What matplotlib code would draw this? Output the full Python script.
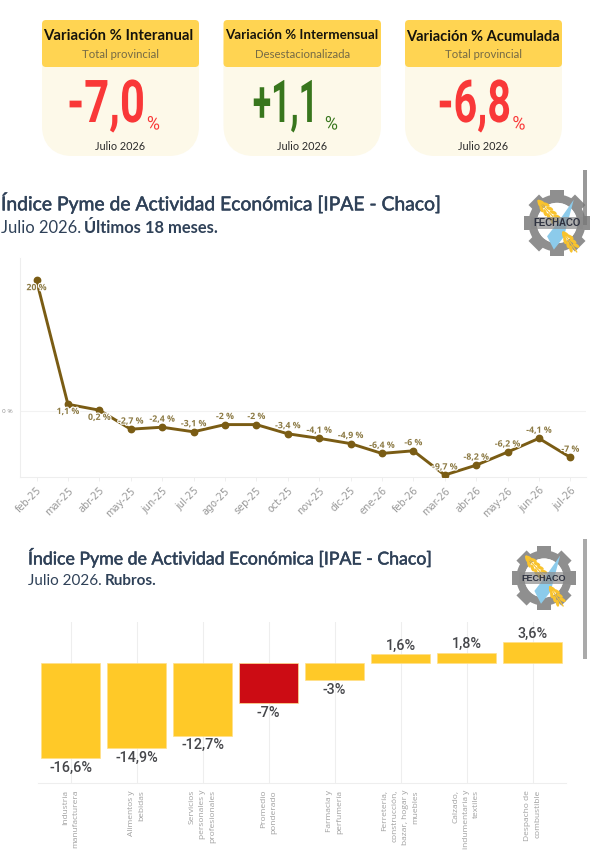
import numpy as np
import matplotlib
matplotlib.use("Agg")
import matplotlib.pyplot as plt
from matplotlib.patches import FancyBboxPatch, Rectangle, Wedge, Polygon, Ellipse, Circle
from matplotlib.transforms import Affine2D
import matplotlib.patheffects as pe

months = ["feb-25","mar-25","abr-25","may-25","jun-25","jul-25","ago-25","sep-25","oct-25",
          "nov-25","dic-25","ene-26","feb-26","mar-26","abr-26","may-26","jun-26","jul-26"]
ipae = [20, 1.1, 0.2, -2.7, -2.4, -3.1, -2, -2, -3.4, -4.1, -4.9, -6.4, -6, -9.7, -8.2, -6.2, -4.1, -7]
ipae_labels = ["20 %","1,1 %","0,2 %","-2,7 %","-2,4 %","-3,1 %","-2 %","-2 %","-3,4 %","-4,1 %",
               "-4,9 %","-6,4 %","-6 %","-9,7 %","-8,2 %","-6,2 %","-4,1 %","-7 %"]
rubros = ["Industria\nmanufacturera","Alimentos y\nbebidas","Servicios\npersonales y\nprofesionales",
          "Promedio\nponderado","Farmacia y\nperfumería","Ferretería,\nconstrucción,\nbazar, hogar y\nmuebles",
          "Calzado,\nindumentaria y\ntextiles","Despacho de\ncombustible"]
rubros_val = [-16.6, -14.9, -12.7, -7, -3, 1.6, 1.8, 3.6]
rubros_labels = ["-16,6%","-14,9%","-12,7%","-7%","-3%","1,6%","1,8%","3,6%"]
kpi_titles = ["Variación % Interanual","Variación % Intermensual","Variación % Acumulada"]
kpi_subs = ["Total provincial","Desestacionalizada","Total provincial"]
kpi_vals = ["-7,0","+1,1","-6,8"]
kpi_date = "Julio 2026"

W, H = 590, 859
fig = plt.figure(figsize=(W/100, H/100), dpi=100, facecolor="white")

def px_axes(l, t, r, b):
    return fig.add_axes([l/W, 1-b/H, (r-l)/W, (b-t)/H])

bg = fig.add_axes([0, 0, 1, 1], zorder=5)
bg.set_xlim(0, W); bg.set_ylim(H, 0); bg.axis("off"); bg.patch.set_alpha(0)

class Condense(pe.AbstractPathEffect):
    """Squeezes a text horizontally about a fixed pixel column."""
    def __init__(self, sx, x0):
        super().__init__()
        self.sx, self.x0 = sx, x0
    def draw_path(self, renderer, gc, tpath, affine, rgbFace=None):
        a = affine + Affine2D().translate(-self.x0, 0).scale(self.sx, 1).translate(self.x0, 0)
        renderer.draw_path(gc, tpath, a, rgbFace)

# KPI cards
card_x = [(42, 199), (223.5, 381), (405, 562)]
kpi_colors = ["#F93838", "#38761D", "#F93838"]
big_right = [145, 318, 511]
big_sx = [0.74, 0.57, 0.70]
pct_x = [153.5, 331.5, 519]
title_x_shift = [-2, -1, -1]
title_y = [36, 35, 37]
title_fs = [10.75, 9.65, 10.5]
for i, (x0, x1) in enumerate(card_x):
    c = (x0+x1)/2
    bg.add_patch(FancyBboxPatch((x0+15, 35), x1-x0-30, 106, boxstyle="round,pad=0,rounding_size=15",
                                mutation_aspect=1, fc="#FDF9E9", ec="#FDF9E9", lw=15*0.72*2))
    bg.add_patch(FancyBboxPatch((x0+4, 24), x1-x0-8, 39, boxstyle="round,pad=4",
                                fc="#FFD452", ec="none"))
    bg.text(c+title_x_shift[i], title_y[i], kpi_titles[i], ha="center", va="center", fontsize=title_fs[i],
            family="Lato", weight="bold", color="#15130c")
    bg.text(c, 55, kpi_subs[i], ha="center", va="center", fontsize=8.2,
            family="Lato", color="#756a45")
    bg.text(big_right[i], 122, kpi_vals[i], ha="right", va="baseline", fontsize=42.5,
            family="Roboto", weight="bold", color=kpi_colors[i],
            path_effects=[Condense(big_sx[i], big_right[i])])
    bg.text(pct_x[i], 129.5, "%", ha="center", va="baseline", fontsize=13.5,
            family="Roboto", color=kpi_colors[i],
            path_effects=[Condense(0.95, pct_x[i])])
    bg.text(c, 147, kpi_date, ha="center", va="center", fontsize=7.8, family="Lato", color="#2b2b2b")

# Titles
navy = "#2F4158"
def title_block(x, y1, y2, title, fs1, sub_a, sub_b, fs2):
    bg.text(x, y1, title, ha="left", va="center", fontsize=fs1, family="Lato", color=navy,
            path_effects=[pe.withStroke(linewidth=0.35, foreground=navy)])
    t = bg.text(x, y2, sub_a, ha="left", va="center", fontsize=fs2, family="Lato", color=navy)
    fig.canvas.draw()
    e = t.get_window_extent()
    xe = e.x1 * W / fig.bbox.width
    bg.text(xe + 3, y2, sub_b, ha="left", va="center", fontsize=fs2, family="Lato", weight="bold", color=navy)

title_block(1, 203, 228, "Índice Pyme de Actividad Económica [IPAE - Chaco]", 13.9, "Julio 2026.", "Últimos 18 meses.", 11.9)
title_block(28, 558, 581, "Índice Pyme de Actividad Económica [IPAE - Chaco]", 12.76, "Julio 2026.", "Rubros.", 11)

# Logos
def wheat(cx, cy, r, x0, y0, x1, y1, n):
    ang = np.arctan2(y1-y0, x1-x0)
    ux, uy = np.cos(ang), np.sin(ang)
    nx, ny = -uy, ux
    bg.plot([cx+r*x0, cx+r*(x1+0.1*ux)], [cy+r*y0, cy+r*(y1+0.1*uy)], color="#F9C32D", lw=0.9, zorder=3)
    for k in range(n):
        t = (k+0.5)/n
        px, py = x0+(x1-x0)*t, y0+(y1-y0)*t
        for side in (-1, 1):
            wid = 0.1 if k else 0.03
            ex, ey = cx+r*(px+side*wid*nx), cy+r*(py+side*wid*ny)
            deg = np.degrees(ang) + side*25
            bg.add_patch(Ellipse((ex, ey), r*0.24, r*0.11, angle=deg, fc="#F9C32D", ec="none", zorder=3))

def logo(cx, cy, r, fsz):
    gray = "#8F8F8F"
    for a in np.arange(0, 360, 45):
        tr = Affine2D().rotate_deg_around(cx, cy, a) + bg.transData
        bg.add_patch(Rectangle((cx-r*0.24, cy-r*1.06), r*0.48, r*0.35, fc=gray, ec="none", transform=tr, zorder=2))
    bg.add_patch(Wedge((cx, cy), r*0.92, 0, 360, width=r*0.27, fc=gray, ec="none", zorder=2))
    bg.add_patch(Circle((cx, cy), r*0.65, fc="white", ec="none", zorder=2))
    bg.add_patch(Polygon([(cx+r*0.54, cy-r*0.75), (cx+r*0.22, cy+r*0.45), (cx-r*0.1, cy+r*0.86),
                          (cx-r*0.32, cy+r*0.43), (cx+r*0.05, cy-r*0.05)], closed=True,
                         fc="#8CCBEB", ec="none", zorder=3))
    wheat(cx, cy, r, -0.6, -0.72, -0.02, -0.08, 5)
    wheat(cx, cy, r, 0.2, 0.3, 0.58, 0.85, 4)
    bg.add_patch(Rectangle((cx-r*0.85, cy-r*0.2), r*1.7, r*0.4, fc="#8C8C8C", ec="none", alpha=0.7, zorder=4))
    bg.text(cx, cy+0.3, "FECHACO", ha="center", va="center", fontsize=fsz,
            family="Liberation Sans", weight="bold", color="#2E3240", zorder=5)

logo(557, 223, 31, 6.9)
logo(544, 578, 30, 6.5)
bg.add_patch(Rectangle((583, 170), 3.5, 55, fc="#777777", ec="none", alpha=0.75, zorder=6))
bg.add_patch(Rectangle((583, 539), 3.5, 120, fc="#AAAAAA", ec="none", zorder=6))

# Line chart
axl = px_axes(20, 258, 586, 477)
x = np.arange(len(months))
axl.plot(x, ipae, color="#7A5C14", lw=2.1, marker="o", ms=4.6, zorder=3, solid_capstyle="round")
axl.set_xlim(-0.526, 17.5)
axl.set_ylim(-10, 23.43)
axl.set_xticks(x)
axl.set_xticklabels(months, rotation=45, ha="right", rotation_mode="anchor",
                    fontsize=7.0, family="DejaVu Sans", color="#999999")
axl.set_yticks([0])
axl.set_yticklabels(["0 %"], fontsize=4.6, family="Open Sans", color="#8f8f8f")
axl.tick_params(axis="x", length=3, width=0.6, color="#ececec", pad=3)
axl.tick_params(axis="y", length=0, pad=5)
axl.axhline(0, color="#f2f2f2", lw=0.8, zorder=1)
for s in ("top", "right"):
    axl.spines[s].set_visible(False)
for s in ("left", "bottom"):
    axl.spines[s].set_color("#eeeeee"); axl.spines[s].set_linewidth(0.8)
label_below = [True, True, True] + [False]*15
for i, (v, lab) in enumerate(zip(ipae, ipae_labels)):
    dy = -5.2 if label_below[i] else 5.8
    axl.annotate(lab, (i, v), xytext=(0, dy), textcoords="offset points", ha="center", va="center",
                 fontsize=6.3, family="Open Sans", color="#8C7A44", zorder=4,
                 path_effects=[pe.withStroke(linewidth=1.6, foreground="white")],
                 annotation_clip=False, weight="bold")

# Bar chart
axb = px_axes(37.5, 622, 565.5, 783)
xb = np.arange(len(rubros))
colors = ["#CC0C14" if r.startswith("Promedio") else "#FFC928" for r in rubros]
axb.bar(xb, rubros_val, width=0.89, color=colors, edgecolor="#FFE08A", linewidth=0.5, zorder=3)
axb.set_xlim(-0.5, 7.5)
axb.set_ylim(-20.98, 7.17)
axb.set_yticks([])
axb.set_xticks(xb)
axb.set_xticklabels(rubros, rotation=90, ha="center", va="top", multialignment="right",
                    fontsize=6.0, family="Open Sans", color="#a0a0a0", linespacing=1.65)
axb.tick_params(axis="x", length=0, pad=5)
axb.grid(axis="x", color="#eeeeee", lw=0.8, zorder=0)
axb.set_axisbelow(True)
for s in ("top", "right", "left"):
    axb.spines[s].set_visible(False)
axb.spines["bottom"].set_color("#eeeeee"); axb.spines["bottom"].set_linewidth(0.8)
for i, (v, lab) in enumerate(zip(rubros_val, rubros_labels)):
    dy = 6 if v > 0 else -7
    axb.annotate(lab, (i, v), xytext=(0, dy), textcoords="offset points", ha="center", va="center",
                 fontsize=10.4, family="Roboto", weight="medium", color="#45464a", zorder=4)

fig.savefig("out.png", dpi=100, facecolor="white")
